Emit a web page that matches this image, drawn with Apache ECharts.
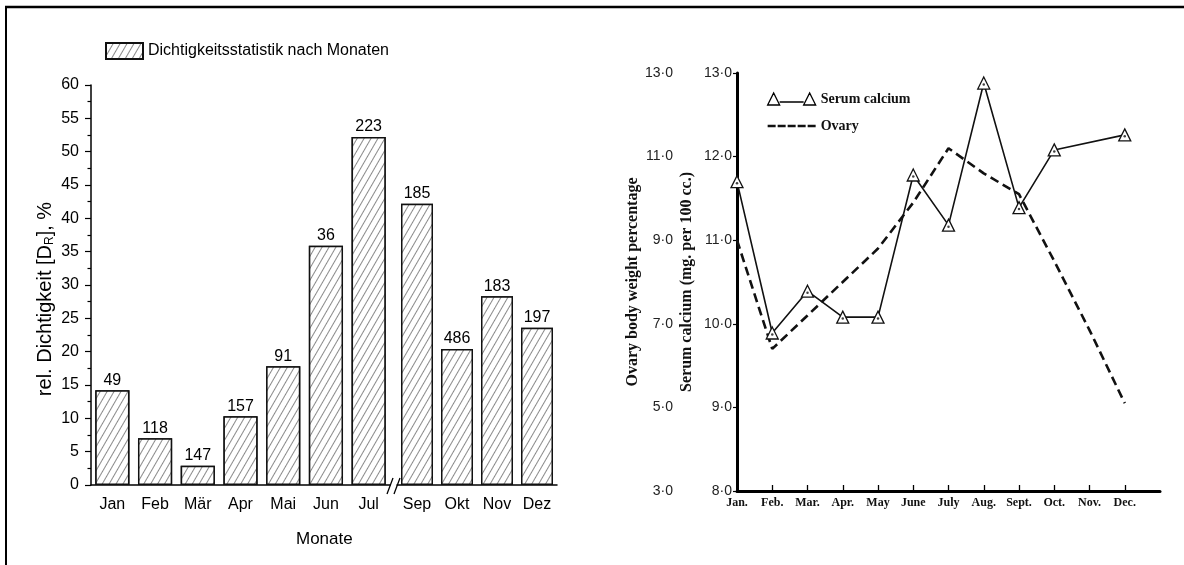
<!DOCTYPE html>
<html><head><meta charset="utf-8">
<script src="https://cdn.jsdelivr.net/npm/echarts@6/dist/echarts.min.js"></script>
<style>html,body{margin:0;padding:0;background:#fff}#c{width:1184px;height:565px}</style>
</head><body><div id="c"></div>
<script>
// ---- left chart data ----
const monthsDE = ['Jan','Feb','Mär','Apr','Mai','Jun','Jul','Sep','Okt','Nov','Dez'];
const density = [14.2, 7.0, 2.9, 10.3, 17.8, 35.9, 52.2, 42.2, 20.4, 28.3, 23.6];
const counts = [49, 118, 147, 157, 91, 36, 223, 185, 486, 183, 197];
const breakAfter = 7;           // axis break between Jul and Sep
const densityMin = 0, densityMax = 60, densityStep = 5;
const legendLeft = 'Dichtigkeitsstatistik nach Monaten';

// ---- right chart data ----
const monthsEN = ['Jan.','Feb.','Mar.','Apr.','May','June','July','Aug.','Sept.','Oct.','Nov.','Dec.'];
const serumCalcium = [11.70, 9.89, 10.39, 10.08, 10.08, 11.78, 11.18, 12.88, 11.39, 12.08, null, 12.26];
const ovary = [9.0, 6.4, 7.2, 8.0, 8.8, 9.9, 11.2, 10.6, 10.1, 8.5, 6.85, 5.1];
const serumMin = 8, serumMax = 13, serumStep = 1;
const ovaryMin = 3, ovaryMax = 13, ovaryStep = 2;

const SANS = "'Liberation Sans', Arial, sans-serif";
const SERIF = "'Liberation Serif', 'Times New Roman', serif";
const dot = v => v.toFixed(1).replace('.', '\u00B7');

const hatch = {
  symbol: 'rect', symbolSize: 1, color: '#8a8a8a', backgroundColor: '#fff',
  dashArrayX: [1, 0], dashArrayY: [1, 4.2], rotation: -Math.PI / 3
};
const barItem = { color: '#fff', borderColor: '#111', borderWidth: 1.5, decal: hatch };

function catMain(grid, data) {
  return {
    type: 'category', gridIndex: grid, data: data, position: 'bottom',
    axisLine: { lineStyle: { color: '#000', width: 1.5 } },
    axisTick: { alignWithLabel: true, length: 6, lineStyle: { color: '#000', width: 1.2 } },
    axisLabel: { color: '#000', fontSize: 16, fontFamily: SANS, margin: 12, interval: 0 }
  };
}
function catMinor(grid, data) {
  return {
    type: 'category', gridIndex: grid, data: data, position: 'bottom',
    axisLine: { show: false }, axisLabel: { show: false },
    axisTick: { length: 3.5, lineStyle: { color: '#000', width: 1.2 } }
  };
}

const chart = echarts.init(document.getElementById('c'));
const option = {
  animation: false,
  backgroundColor: '#fff',
  grid: [
    { left: 91, top: 85, width: 299, height: 400 },
    { left: 397, top: 85, width: 160, height: 400 },
    { left: 737, top: 73, width: 423, height: 418 }
  ],
  legend: [
    {
      data: [{ name: legendLeft, icon: 'rect' }], left: 100, top: 37, itemWidth: 37, itemHeight: 16, itemGap: 6,
      textStyle: { fontSize: 16, fontFamily: SANS, color: '#000' }
    },
    {
      orient: 'vertical', left: 762, top: 87, itemWidth: 48, itemHeight: 12, itemGap: 13,
      data: [
        { name: 'Serum calcium', icon: 'path://M0,12 L6,0 L12,12 Z M12,9 L36,9 M36,12 L42,0 L48,12 Z',
          itemStyle: { color: '#fff', borderColor: '#000', borderWidth: 1.3 } },
        { name: 'Ovary',
          icon: 'path://M0,5 L8,5 L8,7.6 L0,7.6 Z M10,5 L18,5 L18,7.6 L10,7.6 Z M20,5 L28,5 L28,7.6 L20,7.6 Z M30,5 L38,5 L38,7.6 L30,7.6 Z M40,5 L48,5 L48,7.6 L40,7.6 Z',
          itemStyle: { color: '#111', borderWidth: 0 } }
      ],
      textStyle: { fontSize: 14, fontFamily: SERIF, fontWeight: 'bold', color: '#111' }
    }
  ],
  xAxis: [
    catMain(0, monthsDE.slice(0, breakAfter)),
    catMinor(0, monthsDE.slice(0, breakAfter)),
    catMain(1, monthsDE.slice(breakAfter)),
    catMinor(1, monthsDE.slice(breakAfter)),
    {
      type: 'value', gridIndex: 2, min: 0, max: 12, interval: 1,
      axisLine: { lineStyle: { color: '#000', width: 3 } },
      axisTick: { inside: true, length: 6, customValues: [1,2,3,4,5,6,7,8,9,10,11],
                  lineStyle: { color: '#000', width: 1.3 } },
      axisLabel: { customValues: [0,1,2,3,4,5,6,7,8,9,10,11], formatter: v => monthsEN[v] || '',
                   color: '#111', fontSize: 12, fontWeight: 'bold', fontFamily: SERIF, margin: 6 },
      splitLine: { show: false }
    }
  ],
  yAxis: [
    {
      type: 'value', gridIndex: 0, min: densityMin, max: densityMax, interval: densityStep,
      axisLine: { show: true, lineStyle: { color: '#000', width: 1.5 } },
      axisTick: { show: true, length: 6, lineStyle: { color: '#000', width: 1.2 } },
      minorTick: { show: true, splitNumber: 2, length: 3.5, lineStyle: { color: '#000', width: 1.2 } },
      splitLine: { show: false },
      axisLabel: { color: '#000', fontSize: 16, fontFamily: SANS, margin: 12 },
      name: 'rel. Dichtigkeit [D{sub|R}], %', nameLocation: 'middle', nameGap: 35, nameRotate: 90,
      nameTextStyle: { color: '#000', fontSize: 20, fontFamily: SANS, padding: [0, 28, 0, 0],
        rich: { sub: { fontSize: 12, fontFamily: SANS, color: '#000', verticalAlign: 'bottom', padding: [9, 0, 0, 0] } } }
    },
    { type: 'value', gridIndex: 1, min: densityMin, max: densityMax, interval: densityStep, show: false },
    {
      type: 'value', gridIndex: 2, min: serumMin, max: serumMax, interval: serumStep, position: 'left',
      axisLine: { show: true, lineStyle: { color: '#000', width: 3 } },
      axisTick: { show: true, length: 4, lineStyle: { color: '#000', width: 1.2 } },
      splitLine: { show: false },
      axisLabel: { formatter: dot, color: '#222', fontSize: 14, fontFamily: SANS, margin: 5 },
      name: 'Serum calcium (mg. per 100 cc.)', nameLocation: 'middle', nameGap: 42, nameRotate: 90,
      nameTextStyle: { color: '#111', fontSize: 16, fontWeight: 'bold', fontFamily: SERIF }
    },
    {
      type: 'value', gridIndex: 2, min: ovaryMin, max: ovaryMax, interval: ovaryStep, position: 'left', offset: 60,
      axisLine: { show: false }, axisTick: { show: false }, splitLine: { show: false },
      axisLabel: { formatter: dot, color: '#222', fontSize: 14, fontFamily: SANS, margin: 4 },
      name: 'Ovary body weight percentage', nameLocation: 'middle', nameGap: 36, nameRotate: 90,
      nameTextStyle: { color: '#111', fontSize: 16, fontWeight: 'bold', fontFamily: SERIF }
    }
  ],
  series: [
    {
      type: 'bar', name: legendLeft, xAxisIndex: 0, yAxisIndex: 0, barWidth: '80%',
      data: density.slice(0, breakAfter), itemStyle: barItem,
      label: { show: true, position: 'top', distance: 2, formatter: p => String(counts[p.dataIndex]),
               fontSize: 16, fontFamily: SANS, color: '#000' }
    },
    {
      type: 'bar', name: legendLeft, xAxisIndex: 2, yAxisIndex: 1, barWidth: '80%',
      data: density.slice(breakAfter), itemStyle: barItem,
      label: { show: true, position: 'top', distance: 2, formatter: p => String(counts[p.dataIndex + breakAfter]),
               fontSize: 16, fontFamily: SANS, color: '#000' }
    },
    {
      type: 'line', name: 'Ovary', xAxisIndex: 4, yAxisIndex: 3,
      data: ovary.map((v, i) => [i, v]), symbol: 'none',
      lineStyle: { color: '#111', width: 2.6, type: [9, 5] }, itemStyle: { color: '#111' }
    },
    {
      type: 'line', name: 'Serum calcium', xAxisIndex: 4, yAxisIndex: 2, connectNulls: true,
      data: serumCalcium.map((v, i) => [i, v]), symbol: 'triangle', symbolSize: 12, showAllSymbol: true,
      lineStyle: { color: '#111', width: 1.6 },
      itemStyle: { color: '#fff', borderColor: '#111', borderWidth: 1.3 }, z: 3
    },
    {
      type: 'scatter', name: 'Serum calcium centre', xAxisIndex: 4, yAxisIndex: 2,
      data: serumCalcium.map((v, i) => [i, v]), symbol: 'circle', symbolSize: 2.5,
      symbolOffset: [0, 1.5], itemStyle: { color: '#111' }, z: 4, silent: true
    }
  ],
  graphic: [
    { type: 'line', shape: { x1: 5, y1: 7, x2: 1184, y2: 7 }, style: { stroke: '#000', lineWidth: 2.5 } },
    { type: 'line', shape: { x1: 6, y1: 6, x2: 6, y2: 565 }, style: { stroke: '#000', lineWidth: 2 } },
    { type: 'line', shape: { x1: 387, y1: 494, x2: 393, y2: 478 }, style: { stroke: '#000', lineWidth: 1.3 } },
    { type: 'line', shape: { x1: 394, y1: 494, x2: 400, y2: 478 }, style: { stroke: '#000', lineWidth: 1.3 } },
    { type: 'text', left: 296, top: 531, style: { text: 'Monate', fontSize: 17, fontFamily: SANS, fill: '#000' } }
  ]
};
chart.setOption(option);
</script></body></html>
